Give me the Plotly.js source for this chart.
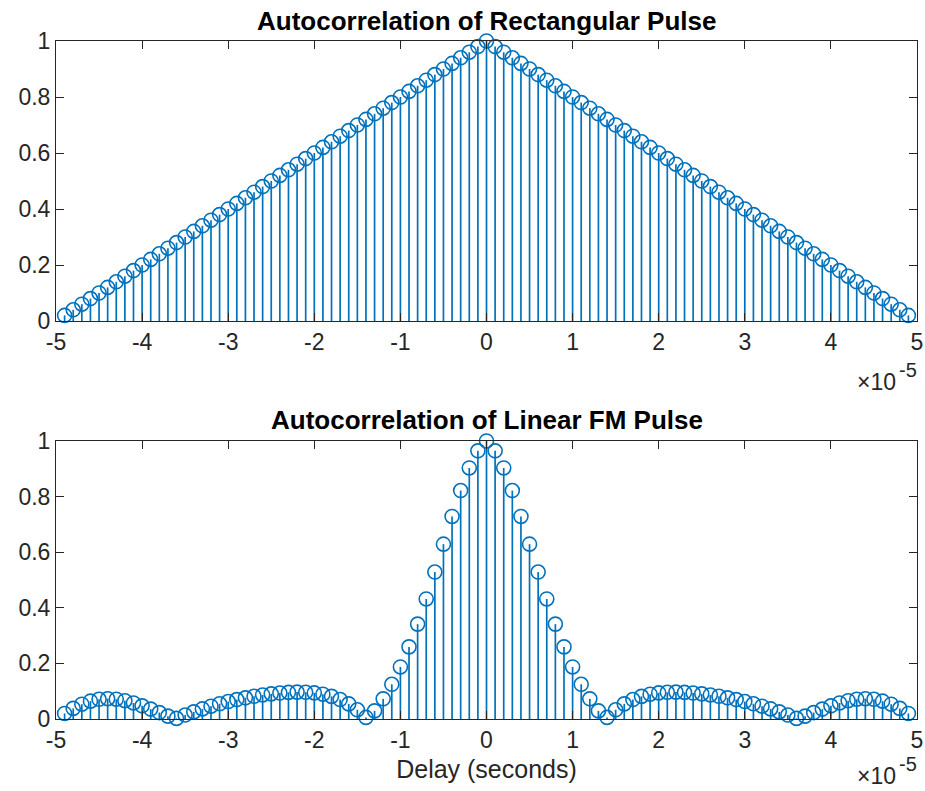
<!DOCTYPE html>
<html>
<head>
<meta charset="utf-8">
<script src="https://cdn.plot.ly/plotly-3.0.1.min.js"></script>
<style>html,body{margin:0;padding:0;background:#fff;}#chart{width:925px;height:791px;}</style>
</head>
<body>
<div id="chart"></div>
<script>
// Delay in units of 1e-5 seconds
const delay = [-4.9,-4.8,-4.7,-4.6,-4.5,-4.4,-4.3,-4.2,-4.1,-4.0,-3.9,-3.8,-3.7,-3.6,-3.5,-3.4,-3.3,-3.2,-3.1,-3.0,
  -2.9,-2.8,-2.7,-2.6,-2.5,-2.4,-2.3,-2.2,-2.1,-2.0,-1.9,-1.8,-1.7,-1.6,-1.5,-1.4,-1.3,-1.2,-1.1,-1.0,
  -0.9,-0.8,-0.7,-0.6,-0.5,-0.4,-0.3,-0.2,-0.1,0,0.1,0.2,0.3,0.4,0.5,0.6,0.7,0.8,0.9,
  1.0,1.1,1.2,1.3,1.4,1.5,1.6,1.7,1.8,1.9,2.0,2.1,2.2,2.3,2.4,2.5,2.6,2.7,2.8,2.9,
  3.0,3.1,3.2,3.3,3.4,3.5,3.6,3.7,3.8,3.9,4.0,4.1,4.2,4.3,4.4,4.5,4.6,4.7,4.8,4.9];

const rectAcf = [0.02,0.04,0.06,0.08,0.10,0.12,0.14,0.16,0.18,0.20,0.22,0.24,0.26,0.28,0.30,0.32,0.34,0.36,0.38,0.40,
  0.42,0.44,0.46,0.48,0.50,0.52,0.54,0.56,0.58,0.60,0.62,0.64,0.66,0.68,0.70,0.72,0.74,0.76,0.78,0.80,
  0.82,0.84,0.86,0.88,0.90,0.92,0.94,0.96,0.98,1.00,0.98,0.96,0.94,0.92,0.90,0.88,0.86,0.84,0.82,
  0.80,0.78,0.76,0.74,0.72,0.70,0.68,0.66,0.64,0.62,0.60,0.58,0.56,0.54,0.52,0.50,0.48,0.46,0.44,0.42,
  0.40,0.38,0.36,0.34,0.32,0.30,0.28,0.26,0.24,0.22,0.20,0.18,0.16,0.14,0.12,0.10,0.08,0.06,0.04,0.02];

const lfmAcf = [0.0200,0.0382,0.0532,0.0642,0.0708,0.0730,0.0711,0.0658,0.0576,0.0473,
  0.0356,0.0231,0.0103,0.0022,0.0143,0.0257,0.0363,0.0460,0.0548,0.0627,
  0.0698,0.0761,0.0816,0.0864,0.0904,0.0935,0.0957,0.0967,0.0962,0.0938,
  0.0891,0.0814,0.0701,0.0544,0.0332,0.0057,0.0292,0.0725,0.1249,0.1872,
  0.2594,0.3413,0.4317,0.5286,0.6289,0.7286,0.8217,0.9029,0.9646,1.0000,
  0.9646,0.9029,0.8217,0.7286,0.6289,0.5286,0.4317,0.3413,0.2594,0.1872,
  0.1249,0.0725,0.0292,0.0057,0.0332,0.0544,0.0701,0.0814,0.0891,0.0938,
  0.0962,0.0967,0.0957,0.0935,0.0904,0.0864,0.0816,0.0761,0.0698,0.0627,
  0.0548,0.0460,0.0363,0.0257,0.0143,0.0022,0.0103,0.0231,0.0356,0.0473,
  0.0576,0.0658,0.0711,0.0730,0.0708,0.0642,0.0532,0.0382,0.0200];

const xTickVals = [-5,-4,-3,-2,-1,0,1,2,3,4,5];
const xTickText = ['-5','-4','-3','-2','-1','0','1','2','3','4','5'];
const yTickVals = [0,0.2,0.4,0.6,0.8,1];
const yTickText = ['0','0.2','0.4','0.6','0.8','1'];

const titleTop = 'Autocorrelation of Rectangular Pulse';
const titleBottom = 'Autocorrelation of Linear FM Pulse';
const xLabel = 'Delay (seconds)';
const expBase = '×10';
const expPow = '-5';

const blue = '#0072BD';
const axisColor = '#262626';
const fontFamily = 'Liberation Sans, Arial, Helvetica, sans-serif';

function stemXY(xs, ys) {
  const sx = [], sy = [];
  for (let i = 0; i < xs.length; i++) {
    sx.push(xs[i], xs[i], null);
    sy.push(0, ys[i], null);
  }
  return {sx, sy};
}

function stemTraces(xs, ys, xa, ya) {
  const s = stemXY(xs, ys);
  return [
    {x: s.sx, y: s.sy, xaxis: xa, yaxis: ya, mode: 'lines', type: 'scatter',
     line: {color: blue, width: 1.7}, hoverinfo: 'skip', showlegend: false},
    {x: xs, y: ys, xaxis: xa, yaxis: ya, mode: 'markers', type: 'scatter', cliponaxis: false,
     marker: {symbol: 'circle-open', size: 14, color: blue, line: {color: blue, width: 1.6}},
     showlegend: false}
  ];
}

const data = [].concat(stemTraces(delay, rectAcf, 'x', 'y'), stemTraces(delay, lfmAcf, 'x2', 'y2'));

function xAxis(anchor, withTitle) {
  const a = {
    domain: [56/925, 917/925], range: [-5, 5], anchor: anchor,
    tickmode: 'array', tickvals: xTickVals, ticktext: xTickText,
    ticks: 'inside', ticklen: 8, tickwidth: 1, tickcolor: axisColor,
    showline: true, linecolor: axisColor, linewidth: 1, mirror: 'allticks',
    showgrid: false, zeroline: false,
    tickfont: {family: fontFamily, size: 23, color: axisColor}
  };
  if (withTitle) {
    a.title = {text: xLabel, font: {family: fontFamily, size: 25, color: axisColor}, standoff: 8};
  }
  return a;
}
function yAxis(anchor, dom) {
  return {
    domain: dom, range: [0, 1], anchor: anchor,
    tickmode: 'array', tickvals: yTickVals, ticktext: yTickText,
    ticks: 'inside', ticklen: 8, tickwidth: 1, tickcolor: axisColor,
    showline: true, linecolor: axisColor, linewidth: 1, mirror: 'allticks',
    showgrid: false, zeroline: false,
    tickfont: {family: fontFamily, size: 23, color: axisColor}
  };
}

function expAnnots(yBase) {
  return [
    {text: expBase, xref: 'paper', yref: 'paper', x: 898/925, y: 1 - yBase/791,
     xanchor: 'right', yanchor: 'middle', showarrow: false,
     font: {family: fontFamily, size: 23, color: axisColor}},
    {text: expPow, xref: 'paper', yref: 'paper', x: 897/925, y: 1 - (yBase - 12)/791,
     xanchor: 'left', yanchor: 'middle', showarrow: false,
     font: {family: fontFamily, size: 20, color: axisColor}}
  ];
}

const layout = {
  width: 925, height: 791,
  margin: {l: 0, r: 0, t: 0, b: 0},
  paper_bgcolor: '#ffffff', plot_bgcolor: '#ffffff',
  showlegend: false,
  xaxis: xAxis('y', false),
  yaxis: yAxis('x', [1 - 321/791, 1 - 41/791]),
  xaxis2: xAxis('y2', true),
  yaxis2: yAxis('x2', [1 - 719/791, 1 - 441/791]),
  annotations: [
    {text: '<b>' + titleTop + '</b>', xref: 'paper', yref: 'paper', x: 487/925, y: 1 - 21/791,
     xanchor: 'center', yanchor: 'middle', showarrow: false,
     font: {family: fontFamily, size: 26, color: '#000000'}},
    {text: '<b>' + titleBottom + '</b>', xref: 'paper', yref: 'paper', x: 487/925, y: 1 - 420/791,
     xanchor: 'center', yanchor: 'middle', showarrow: false,
     font: {family: fontFamily, size: 26, color: '#000000'}}
  ].concat(expAnnots(382), expAnnots(776))
};

Plotly.newPlot('chart', data, layout, {displayModeBar: false, staticPlot: true});
</script>
</body>
</html>
